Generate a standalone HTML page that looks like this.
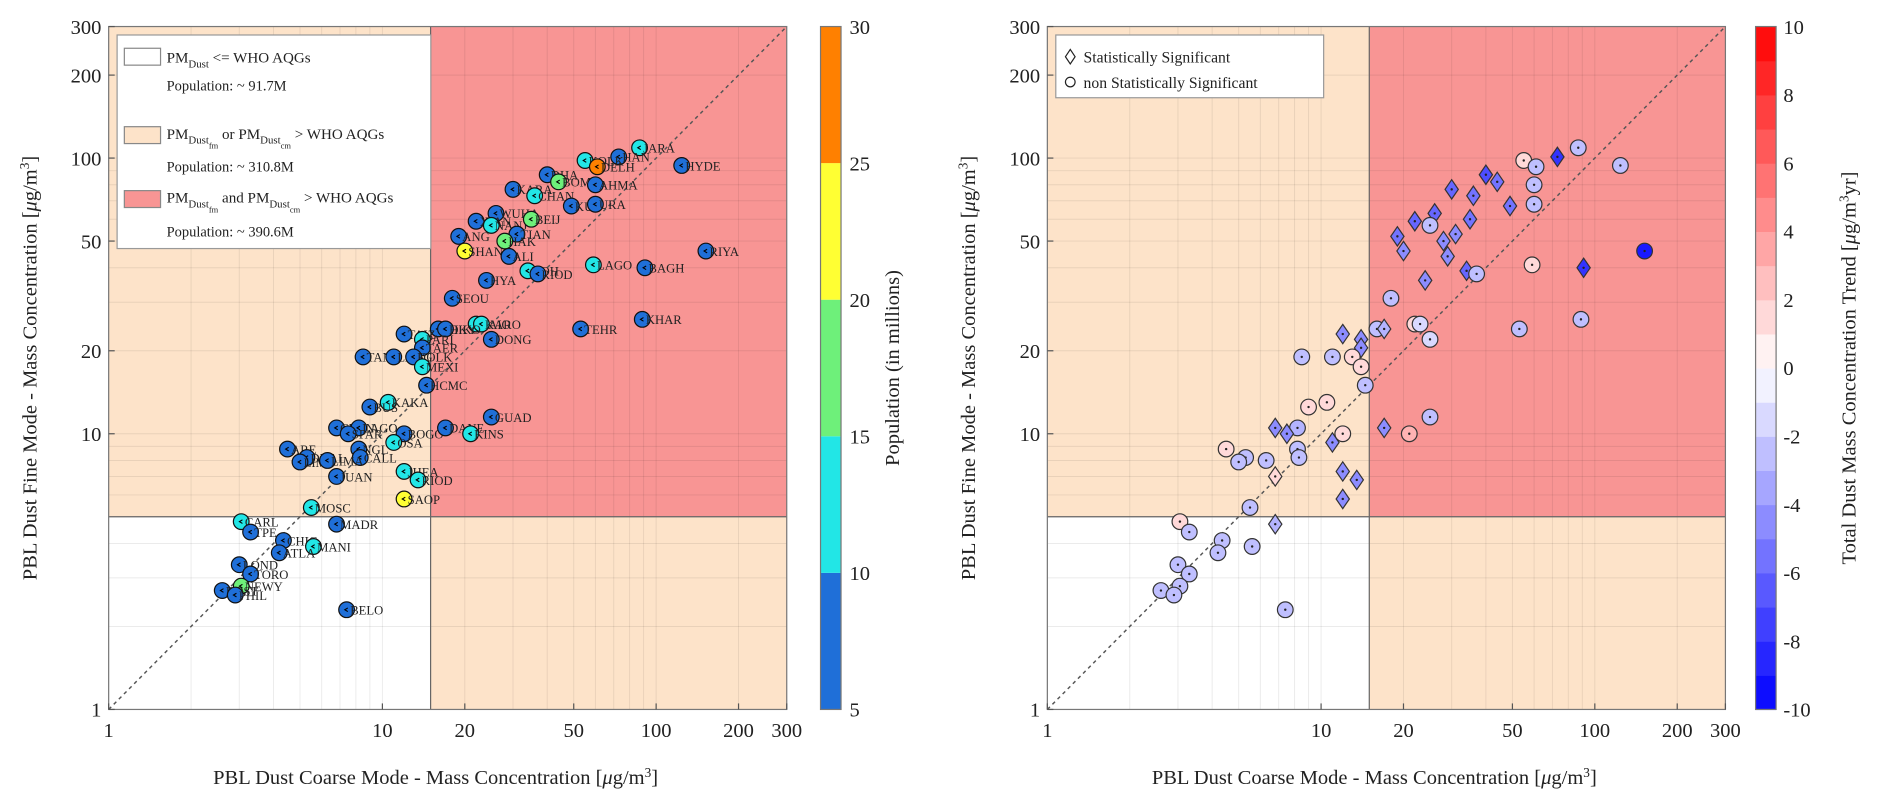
<!DOCTYPE html>
<html><head><meta charset="utf-8">
<style>
html,body{margin:0;padding:0;background:#fff;}
svg{display:block;font-family:"Liberation Serif",serif;}
</style></head>
<body>
<svg id="fig" width="1892" height="812" viewBox="0 0 1568 673" xmlns="http://www.w3.org/2000/svg"></svg>
<script>
const cities=["JARA","HAN","KOLK","DELH","HYDE","DHA","BOMB","AHMA","KARA","CHAN","KUL","URA","WUHA","XIAN","NANJ","BEIJ","TIAN","ANG","HAK","SHAN","ALI","DOH","RIOD","LAGO","BAGH","RIYA","HYA","SEOU","KHAR","TEHR","CAIO","KARO","TOKY","HIKO","DONG","TAIZ","PARI","TAER","TANG","LANG","KOLK","MEXI","HCMC","KAKA","BUS","CHEN","LAGO","SPAR","BOGO","DANE","GUAD","KINS","ARE","OSA","NGL","CALL","DHAL","LIMO","LIMA","JUAN","JHEA","RIOD","SAOP","MOSC","MADR","CARL","TPE","CHIC","MANI","ATLA","LOND","TORO","NEWY","BOST","PHIL","BELO"];
const coarse=[87,73,55,61,124,40,44,60,30,36,49,60,26,22,25,35,31,19,28,20,29,34,37,59,91,152,24,18,89,53,22,23,16,17,25,12,14,14,8.5,11,13,14,14.5,10.5,9,6.8,8.2,7.5,12,17,25,21,4.5,11,8.2,8.3,5.3,5,6.3,6.8,12,13.5,12,5.5,6.8,3.05,3.3,4.35,5.6,4.2,3.0,3.3,3.05,2.6,2.9,7.4];
const fine=[109,101,98,93,94,87,82,80,77,73,67,68,63,59,57,60,53,52,50,46,44,39,38,41,40,46,36,31,26,24,25,25,24,24,22,23,22,20.5,19,19,19,17.5,15,13,12.5,10.5,10.5,10,10,10.5,11.5,10,8.8,9.3,8.8,8.2,8.2,7.9,8,7,7.3,6.8,5.8,5.4,4.7,4.8,4.4,4.1,3.9,3.7,3.35,3.1,2.8,2.7,2.6,2.3];
const population=[12,7,12,27,7,7,17,7,7,12,7,7,7,7,12,17,7,7,17,22,7,12,7,12,7,7,7,7,7,7,12,12,7,7,7,7,12,7,7,7,7,12,7,12,7,7,7,7,7,7,7,12,7,12,7,7,7,7,7,7,12,12,22,12,7,12,7,7,12,7,7,7,17,7,7,7];
const trend=[-2.5,-8,1.5,-2.5,-2.5,-7,-5.5,-2.5,-6,-5.5,-5.5,-2.5,-6,-6,-2.5,-5.5,-4.5,-5.5,-4.5,-4.5,-4.5,-6,-2.5,1.5,-8,-9,-4.5,-2.5,-2.5,-2.5,1.5,-1.5,-2.5,-3,-1.5,-4.5,-4.5,-4.5,-2.5,-2.5,1.5,1.5,-2.5,1.5,1.5,-4.5,-3,-4.5,1.5,-4.5,-2.5,3,1.5,-4.5,-2.5,-2.5,-2.5,-2.5,-2.5,1.5,-4.5,-4.5,-4.5,-2.5,-3,1.5,-2.5,-2.5,-2.5,-2.5,-2.5,-2.5,-2.5,-2.5,-2.5,-2.5];
const significant=[0,1,0,0,0,1,1,0,1,1,1,0,1,1,0,1,1,1,1,1,1,1,0,0,1,0,1,0,0,0,0,0,0,1,0,1,1,1,0,0,0,0,0,0,0,1,0,1,0,1,0,0,0,1,0,0,0,0,0,1,1,1,1,0,1,0,0,0,0,0,0,0,0,0,0,0];
const tickVals=[1,10,20,50,100,200,300];
const popTicks=[5,10,15,20,25,30];
const popColors=["#1f6fd8","#22e6e6","#6ef07a","#ffff33","#ff8000"];
const trendTicks=[-10,-8,-6,-4,-2,0,2,4,6,8,10];

const NS="http://www.w3.org/2000/svg";
const svg=document.getElementById('fig');
function el(tag,attrs,parent){const e=document.createElementNS(NS,tag);for(const k in attrs)e.setAttribute(k,attrs[k]);(parent||svg).appendChild(e);return e;}
const Y0=588,Y1=22,LMIN=0,LMAX=Math.log10(300);
function mkX(x0,x1){return v=>x0+(Math.log10(v)-LMIN)/(LMAX-LMIN)*(x1-x0);}
const yS=v=>Y0-(Math.log10(v)-LMIN)/(LMAX-LMIN)*(Y0-Y1);
function popColor(p){const i=Math.min(4,Math.max(0,Math.floor((p-5)/5)));return popColors[i];}
function trendColor(t){const a=Math.min(1,Math.abs(t)/10);const c=Math.round(255*(1-a));return t>=0?`rgb(255,${c},${c})`:`rgb(${c},${c},255)`;}
function addText(str,x,y,size,anchor,parent,name,rot){
  const t=el('text',{x:x,y:y,'font-size':size,'text-anchor':anchor||'start',fill:'#222'},parent);
  if(rot)t.setAttribute('transform',`rotate(${rot} ${x} ${y})`);
  t.textContent=str;
  
  
  return t;}

function panel(x0,x1,prefix,right){
  const xS=mkX(x0,x1);
  const g=el('g',{});
  
  
  const tx=xS(15),ty=yS(5);
  const r1=el('rect',{x:x0,y:Y1,width:x1-x0,height:Y0-Y1,fill:'#fde3c9'},g);
  
  
  const r0=el('rect',{x:x0,y:ty,width:tx-x0,height:Y0-ty,fill:'#ffffff'},g);
  
  
  const r2=el('rect',{x:tx,y:Y1,width:x1-tx,height:ty-Y1,fill:'#f89594'},g);
  
  
  const gv=[];for(let d=1;d<=100;d*=10)for(let m=1;m<10;m++){const v=d*m;if(v<=300)gv.push(v);}
  gv.forEach(v=>{
    const lx=el('line',{x1:xS(v),x2:xS(v),y1:Y1,y2:Y0,stroke:'#000','stroke-opacity':0.08,'stroke-width':0.8},g);
    
    
    const ly=el('line',{x1:x0,x2:x1,y1:yS(v),y2:yS(v),stroke:'#000','stroke-opacity':0.08,'stroke-width':0.8},g);
    
    
  });
  const tl1=el('line',{x1:tx,x2:tx,y1:Y1,y2:Y0,stroke:'#666','stroke-width':1},g);
  
  
  const tl2=el('line',{x1:x0,x2:x1,y1:ty,y2:ty,stroke:'#666','stroke-width':1},g);
  
  
  const diag=el('line',{x1:xS(1),y1:yS(1),x2:xS(300),y2:yS(300),stroke:'#555','stroke-width':1.2,'stroke-dasharray':'3,3'},g);
  
  
  const fr=el('rect',{x:x0,y:Y1,width:x1-x0,height:Y0-Y1,fill:'none',stroke:'#777','stroke-width':1},g);
  
  
  tickVals.forEach(v=>{
    addText(String(v),xS(v),611,17,'middle',g,'x-tick-label');
    addText(String(v),x0-6,yS(v)+6,17,'end',g,'y-tick-label');
    const t1=el('line',{x1:xS(v),x2:xS(v),y1:Y0,y2:Y0-5,stroke:'#555'},g);
    
    
    const t2=el('line',{x1:x0,x2:x0+5,y1:yS(v),y2:yS(v),stroke:'#555'},g);
    
    
  });
  const xl=addText('',(x0+x1)/2-10,650,17,'middle',g,'x-axis-title');
  xl.innerHTML='PBL Dust Coarse Mode - Mass Concentration [<tspan font-style="italic">μ</tspan>g/m<tspan dy="-6" font-size="11">3</tspan><tspan dy="6">]</tspan>';
  const yl=addText('',x0-60,305,17,'middle',g,'y-axis-title',-90);
  yl.innerHTML='PBL Dust Fine Mode - Mass Concentration [<tspan font-style="italic">μ</tspan>g/m<tspan dy="-6" font-size="11">3</tspan><tspan dy="6">]</tspan>';
  for(let i=0;i<cities.length;i++){
    const cx=xS(coarse[i]),cy=yS(fine[i]);
    if(!right){
      const c=el('circle',{cx:cx,cy:cy,r:6.5,fill:popColor(population[i]),stroke:'#111','stroke-width':1},g);
      
      
      const d=el('path',{d:`M${cx+1},${cy-1.5} L${cx-1.5},${cy} L${cx+1},${cy+1.5}`,fill:'none',stroke:'#000','stroke-width':0.9},g);
      
      
      addText(cities[i],cx+3,cy+4,10.5,'start',g,'city-label');
    } else {
      const col=trendColor(trend[i]);
      let m;
      if(significant[i]){
        m=el('path',{d:`M${cx},${cy-8} L${cx+5.5},${cy} L${cx},${cy+8} L${cx-5.5},${cy} Z`,fill:col,stroke:'#333','stroke-width':1},g);
      } else {
        m=el('circle',{cx:cx,cy:cy,r:6.5,fill:col,stroke:'#333','stroke-width':1},g);
      }
      
      
      const dt=el('circle',{cx:cx,cy:cy,r:1,fill:'#222'},g);
      
      
    }
  }
  return xS;
}
panel(90,652,'left-panel',false);
panel(868,1430,'right-panel',true);

const lg=el('g',{});


const lb=el('rect',{x:97,y:29,width:260,height:177,fill:'#fff',stroke:'#999'},lg);


const sw=[['#fff',40],['#fde3c9',105],['#f89594',158]];
sw.forEach(s=>{const r=el('rect',{x:103,y:s[1],width:30,height:14,fill:s[0],stroke:'#888'},lg);
  
  });
const L1=addText('',138,52,12.5,'start',lg,'legend-entry-below');
L1.innerHTML='PM<tspan dy="4" font-size="9">Dust</tspan><tspan dy="-4"> &lt;= WHO AQGs</tspan>';
addText('Population: ~ 91.7M',138,75,12,'start',lg,'legend-population-below');
const L2=addText('',138,115,12.5,'start',lg,'legend-entry-one');
L2.innerHTML='PM<tspan dy="4" font-size="9">Dust</tspan><tspan dy="4" font-size="7">fm</tspan><tspan dy="-8"> or PM</tspan><tspan dy="4" font-size="9">Dust</tspan><tspan dy="4" font-size="7">cm</tspan><tspan dy="-8"> &gt; WHO AQGs</tspan>';
addText('Population: ~ 310.8M',138,142,12,'start',lg,'legend-population-one');
const L3=addText('',138,168,12.5,'start',lg,'legend-entry-both');
L3.innerHTML='PM<tspan dy="4" font-size="9">Dust</tspan><tspan dy="4" font-size="7">fm</tspan><tspan dy="-8"> and PM</tspan><tspan dy="4" font-size="9">Dust</tspan><tspan dy="4" font-size="7">cm</tspan><tspan dy="-8"> &gt; WHO AQGs</tspan>';
addText('Population: ~ 390.6M',138,196,12,'start',lg,'legend-population-both');

const rg=el('g',{});


const rb=el('rect',{x:875,y:29,width:222,height:52,fill:'#fff',stroke:'#999'},rg);


const dm=el('path',{d:'M887,41 L891,47 L887,53 L883,47 Z',fill:'none',stroke:'#222'},rg);


const ci=el('circle',{cx:887,cy:68,r:4,fill:'none',stroke:'#222'},rg);


addText('Statistically Significant',898,52,13,'start',rg,'legend-entry-significant');
addText('non Statistically Significant',898,73,13,'start',rg,'legend-entry-not-significant');

function cbY(v,lo,hi){return Y0-(v-lo)/(hi-lo)*(Y0-Y1);}
const cb1=el('g',{});


popColors.forEach((c,i)=>{const r=el('rect',{x:680,y:cbY(popTicks[i+1],5,30),width:17,height:cbY(popTicks[i],5,30)-cbY(popTicks[i+1],5,30),fill:c},cb1);
  
  });
const f1=el('rect',{x:680,y:Y1,width:17,height:Y0-Y1,fill:'none',stroke:'#777'},cb1);


popTicks.forEach(v=>addText(String(v),704,cbY(v,5,30)+6,17,'start',cb1,'colorbar-tick-label'));
addText('Population (in millions)',745,305,17,'middle',cb1,'colorbar-title',-90);

const cb2=el('g',{});


for(let v=-10;v<10;v+=1){const r=el('rect',{x:1455,y:cbY(v+1,-10,10),width:17,height:cbY(v,-10,10)-cbY(v+1,-10,10)+0.5,fill:trendColor(v+0.5)},cb2);
  
  }
const f2=el('rect',{x:1455,y:Y1,width:17,height:Y0-Y1,fill:'none',stroke:'#777'},cb2);


trendTicks.forEach(v=>addText(String(v),1478,cbY(v,-10,10)+6,17,'start',cb2,'colorbar-tick-label'));
const ct=addText('',1538,305,17,'middle',cb2,'colorbar-title',-90);
ct.innerHTML='Total Dust Mass Concentration Trend [<tspan font-style="italic">μ</tspan>g/m<tspan dy="-6" font-size="11">3</tspan><tspan dy="6">yr]</tspan>';
</script>
</body></html>
